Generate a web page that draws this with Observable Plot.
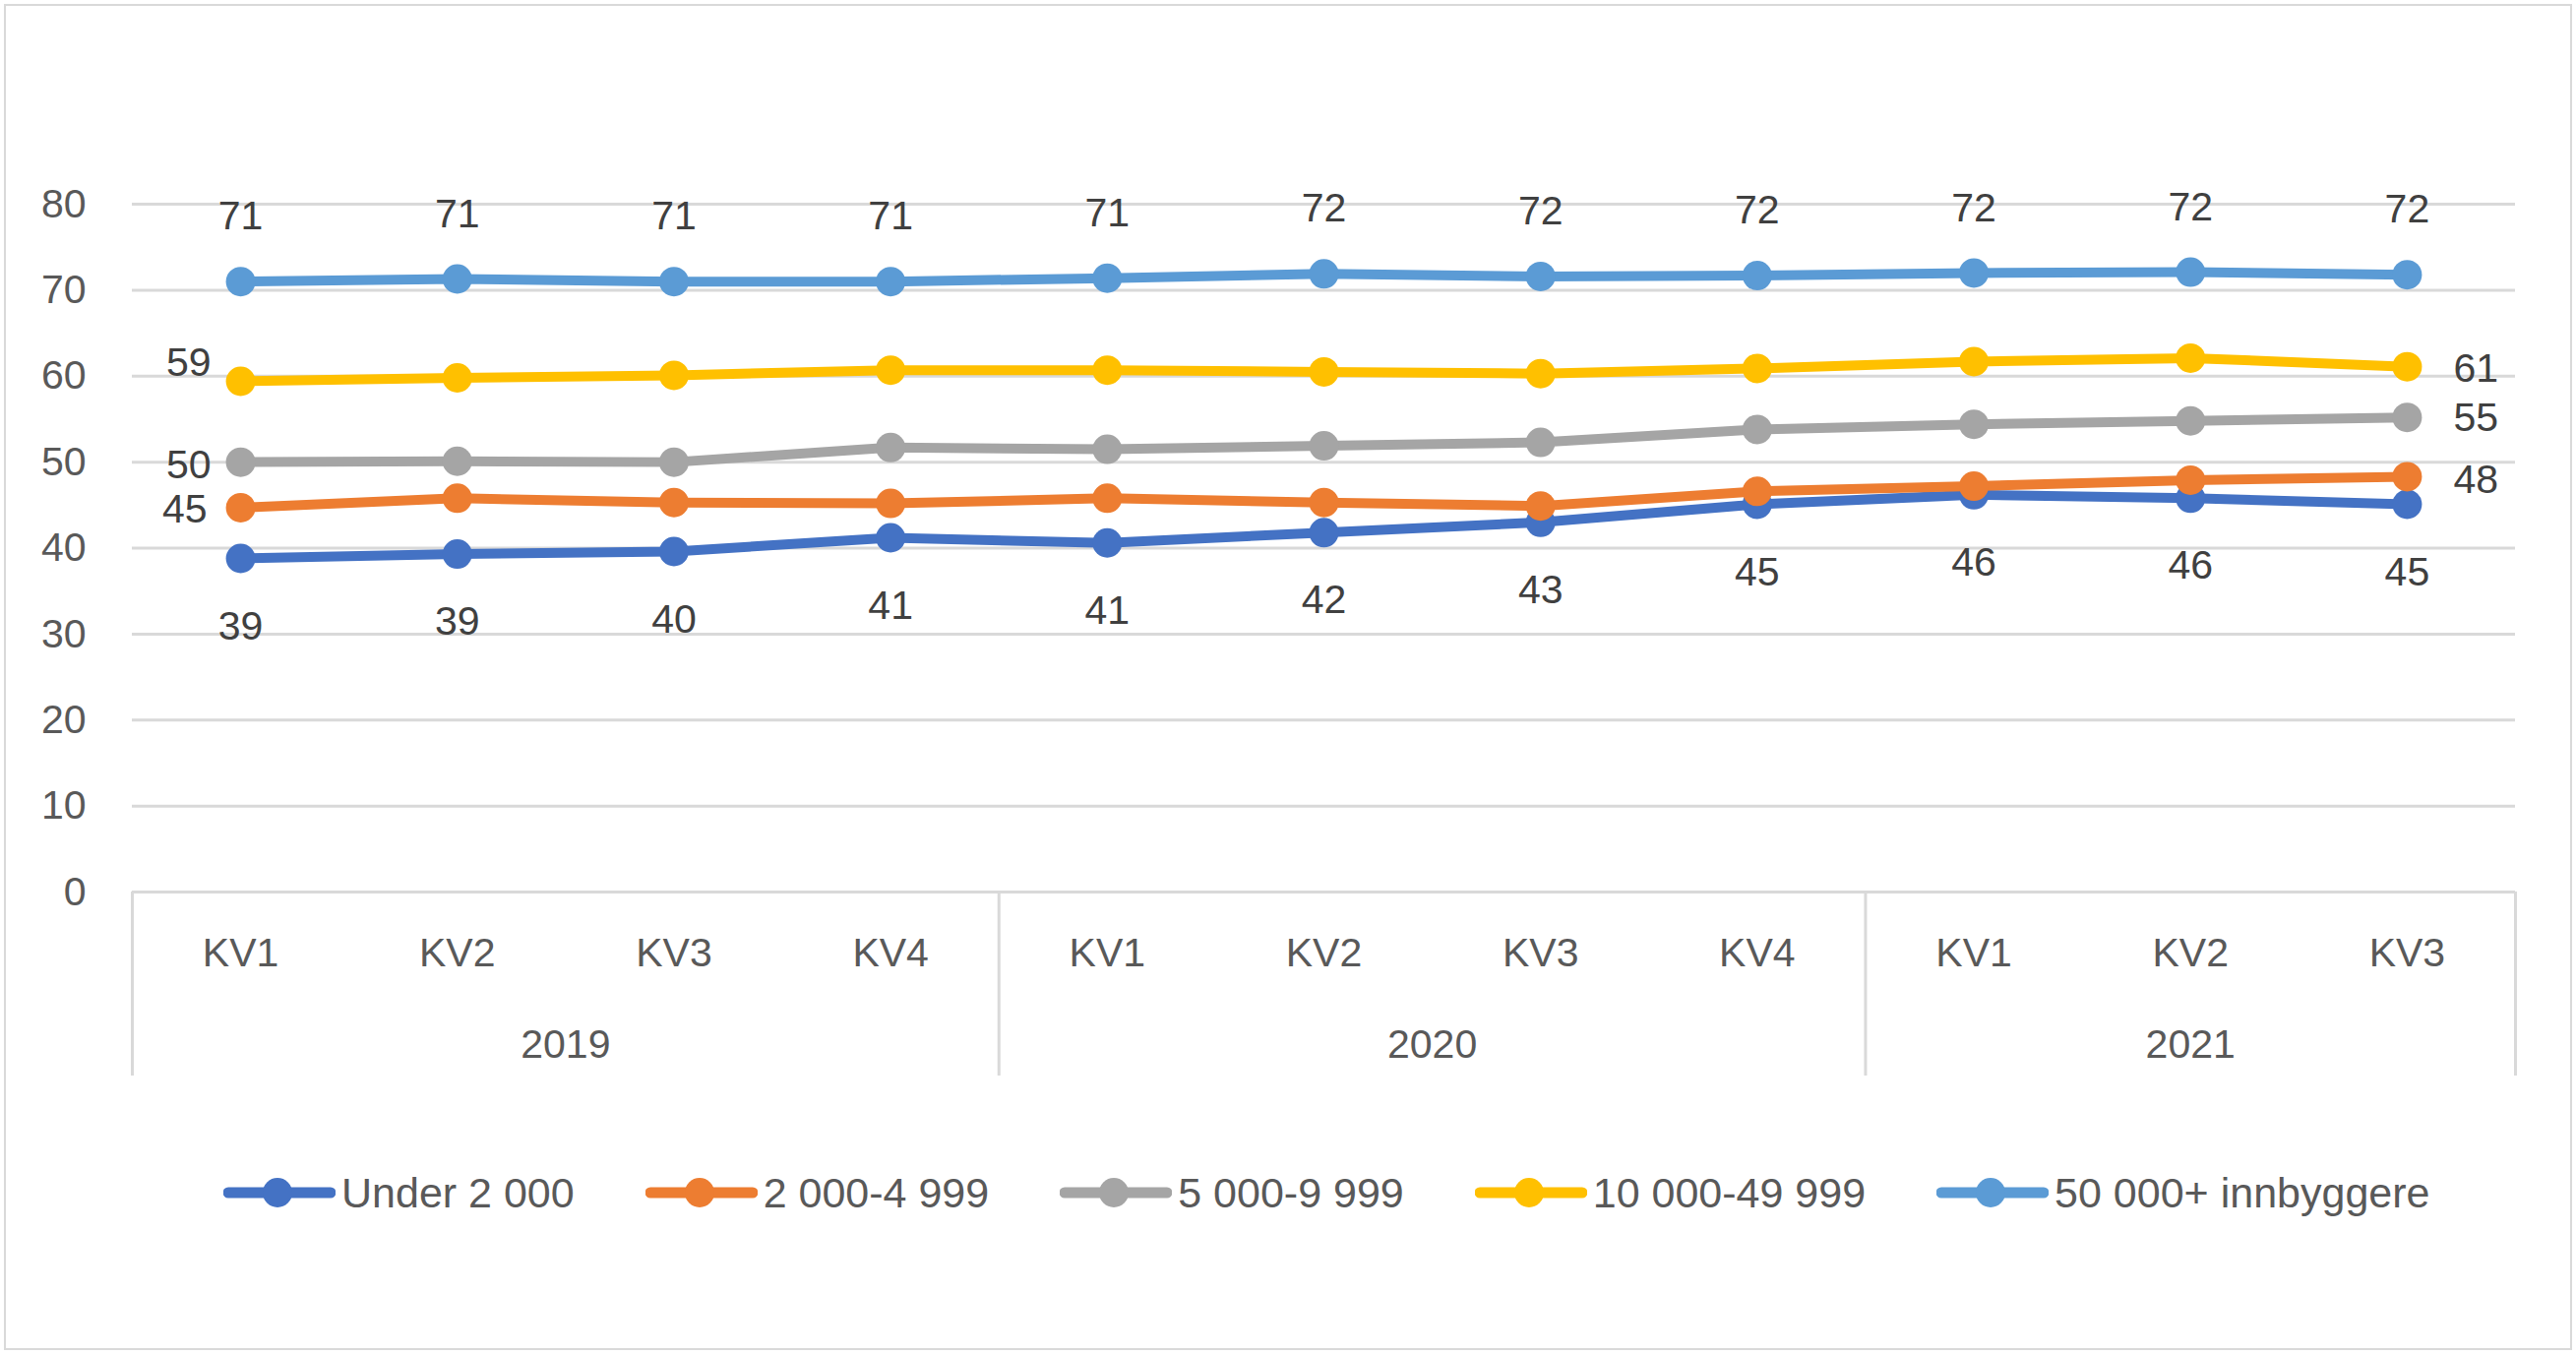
<!DOCTYPE html>
<html>
<head>
<meta charset="utf-8">
<script src="https://cdn.jsdelivr.net/npm/d3@7"></script>
<script src="https://cdn.jsdelivr.net/npm/@observablehq/plot@0.6"></script>
<style>
  html, body { margin: 0; padding: 0; background: #fff; }
  #frame {
    position: absolute; left: 4px; top: 4px; width: 2610px; height: 1368px;
    box-sizing: border-box; border: 2px solid #d9d9d9; background: #fff;
    font-family: "Liberation Sans", Arial, sans-serif; color: #595959;
  }
  #chart svg { display: block; }
  #legend {
    display: flex; align-items: center; margin-left: 221px; margin-top: 81px;
    height: 50px; font-size: 43px; color: #595959; white-space: nowrap;
  }
  .item { display: flex; align-items: center; margin-right: 72px; }
  .item svg { display: block; margin-right: 6px; }
</style>
</head>
<body>
<div id="frame">
  <div id="chart"></div>
  <div id="legend"></div>
</div>
<script>
// ---- Data ----
const quarters = ["KV1", "KV2", "KV3", "KV4", "KV1", "KV2", "KV3", "KV4", "KV1", "KV2", "KV3"];
const years = ["2019", "2019", "2019", "2019", "2020", "2020", "2020", "2020", "2021", "2021", "2021"];
const seriesNames = ["Under 2 000", "2 000-4 999", "5 000-9 999", "10 000-49 999", "50 000+ innbyggere"];
const seriesColors = ["#4472C4", "#ED7D31", "#A5A5A5", "#FFC000", "#5B9BD5"];
const under2000 = [38.8, 39.3, 39.6, 41.2, 40.6, 41.8, 43.0, 45.1, 46.2, 45.8, 45.1];
const from2000 = [44.7, 45.8, 45.3, 45.2, 45.8, 45.3, 44.9, 46.6, 47.2, 47.9, 48.3];
const from5000 = [50.0, 50.1, 50.0, 51.7, 51.5, 51.9, 52.3, 53.8, 54.4, 54.8, 55.2];
const from10000 = [59.4, 59.8, 60.1, 60.7, 60.7, 60.5, 60.3, 60.9, 61.7, 62.1, 61.1];
const from50000 = [71.0, 71.3, 71.0, 71.0, 71.4, 71.9, 71.6, 71.7, 72.0, 72.1, 71.8];
const yTicks = [0, 10, 20, 30, 40, 50, 60, 70, 80];

const seriesValues = [under2000, from2000, from5000, from10000, from50000];
const table = seriesNames.map((name, s) =>
  seriesValues[s].map((v, i) => ({series: name, i, value: v, label: String(Math.round(v))}))
);

// year groups
const yearGroups = d3.groups(quarters.map((q, i) => ({i, year: years[i]})), d => d.year)
  .map(([year, rows]) => ({year, start: d3.min(rows, d => d.i), end: d3.max(rows, d => d.i)}));
const boundaries = yearGroups.map(g => g.start - 0.5).concat([d3.max(yearGroups, g => g.end) + 0.5]);

const font = "Liberation Sans, Arial, sans-serif";
const labelFill = "#404040";

const seriesMarks = table.flatMap((rows, s) => [
  Plot.line(rows, {x: "i", y: "value", stroke: seriesColors[s], strokeWidth: 10, strokeLinejoin: "round", strokeLinecap: "round"}),
  Plot.dot(rows, {x: "i", y: "value", r: 15, fill: seriesColors[s], stroke: "none"})
]);

const first = rows => [rows[0]];
const last = rows => [rows[rows.length - 1]];

const chart = Plot.plot({
  width: 2606,
  height: 1100,
  marginLeft: 128,
  marginRight: 56,
  marginTop: 201,
  marginBottom: 200,
  style: {fontFamily: font, color: "#595959", background: "transparent"},
  x: {domain: [-0.5, quarters.length - 0.5], axis: null},
  y: {domain: [0, 80], axis: null},
  marks: [
    Plot.ruleY(yTicks, {stroke: "#d9d9d9", strokeWidth: 3}),
    Plot.axisY(yTicks, {tickSize: 0, tickPadding: 47, fontSize: 41, fill: "#595959", label: null}),
    Plot.ruleX(boundaries, {y1: 0, y2: -21.4, stroke: "#d9d9d9", strokeWidth: 3}),
    Plot.text(quarters, {x: (d, i) => i, frameAnchor: "bottom", dy: 75, text: d => d, fontSize: 41, fill: "#595959"}),
    Plot.text(yearGroups, {x: g => (g.start + g.end) / 2, frameAnchor: "bottom", dy: 168, text: "year", fontSize: 41, fill: "#595959"}),
    ...seriesMarks,
    // data labels
    Plot.text(table[4], {x: "i", y: "value", text: "label", dy: -66, fontSize: 41, fill: labelFill}),
    Plot.text(table[0], {x: "i", y: "value", text: "label", dy: 69, fontSize: 41, fill: labelFill}),
    Plot.text(first(table[3]), {x: "i", y: "value", text: "label", dx: -30, dy: -19, textAnchor: "end", fontSize: 41, fill: labelFill}),
    Plot.text(first(table[2]), {x: "i", y: "value", text: "label", dx: -30, dy: 3, textAnchor: "end", fontSize: 41, fill: labelFill}),
    Plot.text(first(table[1]), {x: "i", y: "value", text: "label", dx: -34, dy: 2, textAnchor: "end", fontSize: 41, fill: labelFill}),
    Plot.text(last(table[3]), {x: "i", y: "value", text: "label", dx: 47, dy: 2, textAnchor: "start", fontSize: 41, fill: labelFill}),
    Plot.text(last(table[2]), {x: "i", y: "value", text: "label", dx: 47, dy: 1, textAnchor: "start", fontSize: 41, fill: labelFill}),
    Plot.text(last(table[1]), {x: "i", y: "value", text: "label", dx: 47, dy: 3, textAnchor: "start", fontSize: 41, fill: labelFill})
  ]
});
document.getElementById("chart").appendChild(chart);

// legend
const legend = document.getElementById("legend");
seriesNames.forEach((name, s) => {
  const item = document.createElement("div");
  item.className = "item";
  item.innerHTML = `<svg width="114" height="32" viewBox="0 0 114 32">
      <line x1="5" y1="16" x2="109" y2="16" stroke="${seriesColors[s]}" stroke-width="11" stroke-linecap="round"/>
      <circle cx="55" cy="16" r="15" fill="${seriesColors[s]}"/>
    </svg><span>${name}</span>`;
  legend.appendChild(item);
});
</script>
</body>
</html>
